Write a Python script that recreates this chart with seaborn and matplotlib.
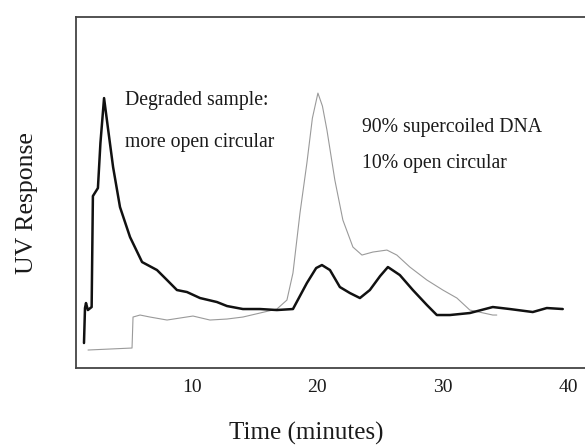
import matplotlib
matplotlib.use("Agg")
import matplotlib.pyplot as plt
import seaborn as sns
import pandas as pd

# Degraded sample (bold black trace)
degraded_time = [1.39, 1.47, 1.55, 1.70, 2.00, 2.10, 2.30, 2.50, 2.70, 2.99, 3.30, 3.71,
                 4.26, 5.06, 6.02, 7.21, 8.01, 8.80, 9.60, 10.64, 11.99, 12.79, 14.06,
                 15.42, 16.77, 18.05, 19.16, 19.90, 20.36, 21.00, 21.79, 22.59, 23.39,
                 24.18, 25.00, 25.62, 26.57, 27.61, 28.73, 29.52, 30.56, 32.15, 33.98,
                 35.34, 37.17, 38.29, 39.56]
degraded_resp = [25, 60, 65, 58, 61, 172, 176, 180, 225, 270, 240, 201,
                 161, 131, 106, 98, 88, 78, 76, 70, 66, 62, 59,
                 59, 58, 59, 85, 100, 103, 98, 81, 75, 70,
                 78, 92, 101, 93, 78, 63, 53, 53, 55, 61,
                 59, 56, 60, 59]

# 90% supercoiled DNA (thin gray trace)
super_time = [1.71, 3.47, 5.22, 5.30, 5.86, 6.65, 8.01, 10.08, 11.43, 12.79, 14.06,
              15.42, 16.77, 17.57, 18.05, 18.61, 19.16, 19.60, 20.04, 20.40, 20.76,
              21.39, 22.03, 22.83, 23.55, 24.42, 25.54, 26.33, 27.37, 28.73, 30.00,
              31.12, 32.15, 33.98, 34.30]
super_resp = [18, 19, 20, 51, 53, 51, 48, 52, 48, 49, 51,
              55, 59, 68, 95, 155, 205, 250, 275, 262, 238,
              188, 148, 121, 113, 116, 118, 113, 101, 88, 78,
              70, 58, 53, 53]

xticks = [10, 20, 30, 40]
xtick_labels = ["10", "20", "30", "40"]

df_deg = pd.DataFrame({"t": degraded_time, "r": degraded_resp})
df_sup = pd.DataFrame({"t": super_time, "r": super_resp})

sns.set_style("white")
plt.rcParams["font.family"] = ["Liberation Serif", "DejaVu Serif"]

fig = plt.figure(figsize=(5.85, 4.47), dpi=100)
ax = fig.add_axes([0.130, 0.1767, 0.88, 0.785])

sns.lineplot(data=df_sup, x="t", y="r", ax=ax, color="#9a9a9a", linewidth=0.8,
             sort=False, estimator=None)
sns.lineplot(data=df_deg, x="t", y="r", ax=ax, color="#111111", linewidth=1.8,
             sort=False, estimator=None)

ax.set_xlim(0.757, 41.8)
ax.set_ylim(0, 351)
ax.set_xticks(xticks)
ax.set_xticklabels(xtick_labels, fontsize=14, color="#1a1a1a")
ax.set_yticks([])
ax.tick_params(axis="x", length=0, pad=8)
for s in ["left", "bottom", "top"]:
    ax.spines[s].set_color("#444444")
    ax.spines[s].set_linewidth(1.3)
ax.spines["right"].set_visible(False)

ax.set_xlabel("Time (minutes)", fontsize=18, color="#1a1a1a")
ax.set_ylabel("UV Response", fontsize=18.5, color="#1a1a1a")
ax.xaxis.set_label_coords(0.447, -0.154)
ax.yaxis.set_label_coords(-0.074, 0.47)

txt_kw = dict(fontsize=14.2, va="center", ha="left", color="#1a1a1a")
ax.text(4.66, 268, "Degraded sample:", **txt_kw)
ax.text(4.66, 226, "more open circular", **txt_kw)
ax.text(23.55, 241, "90% supercoiled DNA", **txt_kw)
ax.text(23.55, 205, "10% open circular", **txt_kw)

fig.savefig("out.png", dpi=100)
